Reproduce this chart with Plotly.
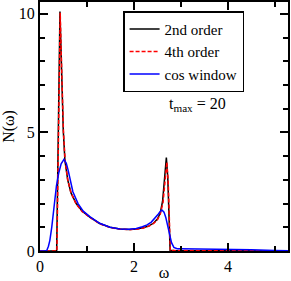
import plotly.graph_objects as go

# 2nd order
w2 = [0, 0.355, 0.39, 0.425, 0.46, 0.495, 0.53, 0.59, 0.66, 0.77, 0.90, 1.06, 1.27, 1.49, 1.70,
      1.90, 2.05, 2.20, 2.32, 2.42, 2.50, 2.56, 2.61, 2.65, 2.69, 2.72, 2.745, 2.77, 2.85, 3.5, 4.5, 5.3]
n2 = [0, 0, 5.05, 10.1, 7.6, 5.1, 3.83, 3.0, 2.45, 2.0, 1.68, 1.43, 1.16, 1.0, 0.93,
      0.91, 0.93, 0.98, 1.06, 1.18, 1.35, 1.6, 2.1, 2.9, 3.94, 3.1, 1.6, 0.03, 0.02, 0.02, 0.01, 0.0]

# 4th order
w4 = [0, 0.36, 0.395, 0.43, 0.465, 0.50, 0.535, 0.59, 0.66, 0.77, 0.90, 1.06, 1.27, 1.49, 1.70,
      1.90, 2.05, 2.20, 2.32, 2.42, 2.50, 2.56, 2.62, 2.66, 2.70, 2.73, 2.755, 2.775, 2.85, 3.5, 4.5, 5.3]
n4 = [0, 0, 5.0, 10.05, 7.4, 5.0, 3.8, 3.0, 2.45, 1.98, 1.66, 1.42, 1.15, 0.99, 0.92,
      0.9, 0.92, 0.97, 1.05, 1.16, 1.32, 1.55, 2.05, 2.8, 3.75, 2.9, 1.3, 0.0, 0.02, 0.02, 0.01, 0.0]

# cos window
wc = [0, 0.14, 0.18, 0.21, 0.25, 0.30, 0.35, 0.40, 0.45, 0.51, 0.56, 0.60, 0.64, 0.70, 0.81, 0.92,
      1.06, 1.27, 1.49, 1.70, 1.90, 2.05, 2.18, 2.28, 2.37, 2.45, 2.52, 2.57, 2.60, 2.64, 2.68,
      2.72, 2.76, 2.80, 2.85, 2.92, 3.0, 3.5, 4.0, 4.5, 5.0, 5.3]
nc = [0, 0, 0.2, 0.45, 1.0, 2.0, 2.75, 3.3, 3.68, 3.86, 3.7, 3.4, 3.0, 2.5, 2.0, 1.68,
      1.45, 1.17, 1.0, 0.93, 0.92, 0.95, 1.02, 1.1, 1.22, 1.38, 1.56, 1.69, 1.72, 1.64, 1.4,
      1.05, 0.65, 0.35, 0.15, 0.1, 0.1, 0.09, 0.07, 0.05, 0.02, 0.01]

series_names = ["2nd order", "4th order", "cos window"]

FONT = "Liberation Serif, Times New Roman, Times, serif"

fig = go.Figure()
fig.add_trace(go.Scatter(x=w2, y=n2, mode="lines", name=series_names[0],
                         line=dict(color="black", width=1.5)))
fig.add_trace(go.Scatter(x=w4, y=n4, mode="lines", name=series_names[1],
                         line=dict(color="#ff0000", width=1.5, dash="4px,2px")))
fig.add_trace(go.Scatter(x=wc, y=nc, mode="lines", name=series_names[2],
                         line=dict(color="#0000ff", width=1.5)))

axis_common = dict(showgrid=False, zeroline=False, showline=True, linecolor="black",
                   linewidth=2, mirror="allticks", ticks="inside", ticklen=8,
                   tickwidth=1.5, tickcolor="black", automargin=False,
                   tickfont=dict(family=FONT, size=16, color="black"))

fig.update_xaxes(range=[0, 5.28], tickvals=[0, 2, 4], ticktext=["0", "2", "4"],
                 minor=dict(tickvals=[1, 3, 5], ticks="inside", ticklen=5, tickwidth=1.5,
                            tickcolor="black"),
                 title=dict(text="ω", font=dict(family=FONT, size=16, color="black"), standoff=2),
                 **axis_common)
fig.update_yaxes(range=[0, 10.5], tickvals=[0, 5, 10], ticktext=["0", "5", "10"],
                 minor=dict(tickvals=[1, 2, 3, 4, 6, 7, 8, 9], ticks="inside", ticklen=5,
                            tickwidth=1.5, tickcolor="black"),
                 title=dict(text="N(ω)", font=dict(family=FONT, size=16, color="black"), standoff=2),
                 **axis_common)

fig.add_annotation(x=0.635, y=0.59, xref="paper", yref="paper",
                   text="t<sub>max</sub> = 20", showarrow=False,
                   font=dict(family=FONT, size=16, color="black"))

fig.update_layout(
    width=291, height=281,
    margin=dict(l=40, r=3, t=2, b=30),
    paper_bgcolor="white", plot_bgcolor="white",
    showlegend=True,
    legend=dict(x=0.335, y=0.963, xanchor="left", yanchor="top",
                bordercolor="black", borderwidth=1.5, bgcolor="white",
                font=dict(family=FONT, size=15, color="black"),
                tracegroupgap=0, itemwidth=30),
    font=dict(family=FONT, size=16, color="black"),
)

fig.write_html("out.html", config={"displayModeBar": False},
               post_script="document.body.style.margin='0';document.body.style.padding='0';")
